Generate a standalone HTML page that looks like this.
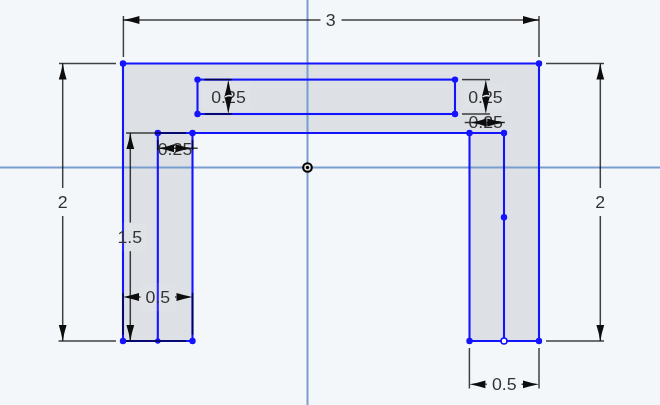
<!DOCTYPE html>
<html><head><meta charset="utf-8"><style>
html,body{margin:0;padding:0;width:660px;height:405px;overflow:hidden;background:#f4f7fa;}
.wrap{will-change:transform;width:660px;height:405px;}
svg{display:block;}
text{font-family:"Liberation Sans", sans-serif;}
</style></head><body>
<div class="wrap"><svg width="660" height="405" viewBox="0 0 660 405">
<rect x="0" y="0" width="660" height="405" fill="#f4f7fa"/>
<polygon points="123,63.5 539,63.5 539,341 469.5,341 469.5,133 192.5,133 192.5,341 123,341" fill="#dde1e5"/>
<line x1="307.5" y1="0" x2="307.5" y2="405" stroke="#789ecf" stroke-width="2"/>
<line x1="0" y1="167.5" x2="660" y2="167.5" stroke="#789ecf" stroke-width="2"/>
<line x1="123" y1="63.5" x2="539" y2="63.5" stroke="#1414ff" stroke-width="2.1"/>
<line x1="123" y1="63.5" x2="123" y2="341" stroke="#1414ff" stroke-width="2.1"/>
<line x1="539" y1="63.5" x2="539" y2="341" stroke="#1414ff" stroke-width="2.1"/>
<line x1="123" y1="341" x2="192.5" y2="341" stroke="#1414ff" stroke-width="2.1"/>
<line x1="469.5" y1="341" x2="539" y2="341" stroke="#1414ff" stroke-width="2.1"/>
<line x1="157.8" y1="133" x2="504" y2="133" stroke="#1414ff" stroke-width="2.1"/>
<line x1="157.8" y1="133" x2="157.8" y2="341" stroke="#1414ff" stroke-width="2.1"/>
<line x1="192.5" y1="133" x2="192.5" y2="341" stroke="#1414ff" stroke-width="2.1"/>
<line x1="469.5" y1="133" x2="469.5" y2="341" stroke="#1414ff" stroke-width="2.1"/>
<line x1="504" y1="133" x2="504" y2="341" stroke="#1414ff" stroke-width="2.1"/>
<rect x="197.5" y="79.6" width="257.5" height="34.4" fill="none" stroke="#1414ff" stroke-width="2.1"/>
<rect x="320.5" y="6" width="21.0" height="28" fill="#fff" fill-opacity="0.08"/>
<rect x="52.5" y="188" width="20.5" height="28" fill="#fff" fill-opacity="0.08"/>
<rect x="590" y="188" width="20.5" height="28" fill="#fff" fill-opacity="0.08"/>
<rect x="112.4" y="222.6" width="34.79999999999998" height="28.599999999999994" fill="#fff" fill-opacity="0.07"/>
<rect x="141" y="283" width="34" height="28" fill="#fff" fill-opacity="0.08"/>
<rect x="486.5" y="370" width="36.0" height="28" fill="#fff" fill-opacity="0.08"/>
<rect x="200.7" y="82.5" width="50.10000000000002" height="28.5" fill="#fff" fill-opacity="0.08"/>
<rect x="462.8" y="83" width="44.89999999999998" height="27.599999999999994" fill="#fff" fill-opacity="0.08"/>
<circle cx="123" cy="63.5" r="3.2" fill="#1414ff"/>
<circle cx="539" cy="63.5" r="3.2" fill="#1414ff"/>
<circle cx="123" cy="341" r="3.2" fill="#1414ff"/>
<circle cx="157.8" cy="341" r="2.7" fill="#1414ff"/>
<circle cx="192.5" cy="341" r="3.2" fill="#1414ff"/>
<circle cx="469.5" cy="341" r="3.2" fill="#1414ff"/>
<circle cx="539" cy="341" r="3.2" fill="#1414ff"/>
<circle cx="157.8" cy="133" r="3.2" fill="#1414ff"/>
<circle cx="192.5" cy="133" r="3.2" fill="#1414ff"/>
<circle cx="469.5" cy="133" r="3.2" fill="#1414ff"/>
<circle cx="504" cy="133" r="3.2" fill="#1414ff"/>
<circle cx="197.5" cy="79.6" r="3.2" fill="#1414ff"/>
<circle cx="455" cy="79.6" r="3.2" fill="#1414ff"/>
<circle cx="197.5" cy="114.0" r="3.2" fill="#1414ff"/>
<circle cx="455" cy="114.0" r="3.2" fill="#1414ff"/>
<circle cx="504" cy="217.3" r="3.2" fill="#1414ff"/>
<circle cx="504" cy="341" r="3" fill="#fff" stroke="#1414ff" stroke-width="1.6"/>
<line x1="123.4" y1="16" x2="123.4" y2="57" stroke="#000" stroke-opacity="0.74" stroke-width="1.5"/>
<line x1="539" y1="16" x2="539" y2="57" stroke="#000" stroke-opacity="0.74" stroke-width="1.5"/>
<line x1="123" y1="20" x2="320.5" y2="20" stroke="#000" stroke-opacity="0.74" stroke-width="1.5"/>
<line x1="341.5" y1="20" x2="539" y2="20" stroke="#000" stroke-opacity="0.74" stroke-width="1.5"/>
<line x1="59" y1="63.5" x2="116" y2="63.5" stroke="#000" stroke-opacity="0.74" stroke-width="1.5"/>
<line x1="58.5" y1="341" x2="116" y2="341" stroke="#000" stroke-opacity="0.74" stroke-width="1.5"/>
<line x1="62.7" y1="63.5" x2="62.7" y2="188" stroke="#000" stroke-opacity="0.74" stroke-width="1.5"/>
<line x1="62.7" y1="216" x2="62.7" y2="341" stroke="#000" stroke-opacity="0.74" stroke-width="1.5"/>
<line x1="546" y1="63.5" x2="604" y2="63.5" stroke="#000" stroke-opacity="0.74" stroke-width="1.5"/>
<line x1="546" y1="341" x2="604" y2="341" stroke="#000" stroke-opacity="0.74" stroke-width="1.5"/>
<line x1="600.3" y1="63.5" x2="600.3" y2="188" stroke="#000" stroke-opacity="0.74" stroke-width="1.5"/>
<line x1="600.3" y1="216" x2="600.3" y2="341" stroke="#000" stroke-opacity="0.74" stroke-width="1.5"/>
<line x1="126" y1="133" x2="186" y2="133" stroke="#000" stroke-opacity="0.74" stroke-width="1.5"/>
<line x1="126" y1="341" x2="186" y2="341" stroke="#000" stroke-opacity="0.74" stroke-width="1.5"/>
<line x1="130.3" y1="133" x2="130.3" y2="222.6" stroke="#000" stroke-opacity="0.74" stroke-width="1.5"/>
<line x1="130.3" y1="251.2" x2="130.3" y2="341" stroke="#000" stroke-opacity="0.74" stroke-width="1.5"/>
<line x1="123" y1="293" x2="123" y2="334.6" stroke="#000" stroke-opacity="0.74" stroke-width="1.5"/>
<line x1="192.5" y1="293" x2="192.5" y2="334.6" stroke="#000" stroke-opacity="0.74" stroke-width="1.5"/>
<line x1="139" y1="297" x2="140.5" y2="297.0" stroke="#000" stroke-opacity="0.74" stroke-width="1.5"/>
<line x1="176.5" y1="297" x2="175.0" y2="297.0" stroke="#000" stroke-opacity="0.74" stroke-width="1.5"/>
<line x1="469.4" y1="348" x2="469.4" y2="388.5" stroke="#000" stroke-opacity="0.74" stroke-width="1.5"/>
<line x1="539" y1="348" x2="539" y2="388.5" stroke="#000" stroke-opacity="0.74" stroke-width="1.5"/>
<line x1="485.4" y1="384.3" x2="486.9" y2="384.3" stroke="#000" stroke-opacity="0.74" stroke-width="1.5"/>
<line x1="523" y1="384.3" x2="521.5" y2="384.3" stroke="#000" stroke-opacity="0.74" stroke-width="1.5"/>
<line x1="204.8" y1="79.6" x2="231.7" y2="79.6" stroke="#000" stroke-opacity="0.74" stroke-width="1.5"/>
<line x1="204.8" y1="114.0" x2="231.7" y2="114.0" stroke="#000" stroke-opacity="0.74" stroke-width="1.5"/>
<line x1="462" y1="79.6" x2="490" y2="79.6" stroke="#000" stroke-opacity="0.74" stroke-width="1.5"/>
<line x1="462" y1="114.0" x2="490" y2="114.0" stroke="#000" stroke-opacity="0.74" stroke-width="1.5"/>
<line x1="464.7" y1="122.5" x2="504.9" y2="122.5" stroke="#000" stroke-opacity="0.74" stroke-width="1.5"/>
<line x1="157.8" y1="140" x2="157.8" y2="150" stroke="#000" stroke-opacity="0.74" stroke-width="1.5"/>
<line x1="192.5" y1="140" x2="192.5" y2="150" stroke="#000" stroke-opacity="0.74" stroke-width="1.5"/>
<line x1="157.8" y1="148.2" x2="197.7" y2="148.2" stroke="#000" stroke-opacity="0.74" stroke-width="1.5"/>
<g font-size="17.4" fill="#333">
<text transform="translate(330.7,26.1) scale(1.02,1)" x="0" y="0" text-anchor="middle">3</text>
<text transform="translate(62.7,207.9) scale(1.02,1)" x="0" y="0" text-anchor="middle">2</text>
<text transform="translate(600.3,207.9) scale(1.02,1)" x="0" y="0" text-anchor="middle">2</text>
<text transform="translate(129.7,242.9) scale(1.02,1)" x="0" y="0" text-anchor="middle">1.5</text>
<text transform="translate(157.8,302.6) scale(1.02,1)" x="0" y="0" text-anchor="middle">0.5</text>
<text transform="translate(504.3,390.2) scale(1.02,1)" x="0" y="0" text-anchor="middle">0.5</text>
<text transform="translate(228.5,102.8) scale(1.02,1)" x="0" y="0" text-anchor="middle">0.25</text>
<text transform="translate(485.4,102.8) scale(1.02,1)" x="0" y="0" text-anchor="middle">0.25</text>
<text transform="translate(485.7,128.4) scale(1.02,1)" x="0" y="0" text-anchor="middle">0.25</text>
<text transform="translate(175,154.5) scale(1.02,1)" x="0" y="0" text-anchor="middle">0.25</text>
</g>
<path d="M123.4,20 Q131.40,18.64 139.40,16.10 L139.40,23.90 Q131.40,21.36 123.4,20Z" fill="#0d0d0d"/>
<path d="M539,20 Q531.00,21.36 523.00,23.90 L523.00,16.10 Q531.00,18.64 539,20Z" fill="#0d0d0d"/>
<path d="M62.7,63.5 Q64.07,71.50 66.60,79.50 L58.80,79.50 Q61.34,71.50 62.7,63.5Z" fill="#0d0d0d"/>
<path d="M62.7,341 Q61.34,333.00 58.80,325.00 L66.60,325.00 Q64.07,333.00 62.7,341Z" fill="#0d0d0d"/>
<path d="M600.3,63.5 Q601.66,71.50 604.20,79.50 L596.40,79.50 Q598.93,71.50 600.3,63.5Z" fill="#0d0d0d"/>
<path d="M600.3,341 Q598.93,333.00 596.40,325.00 L604.20,325.00 Q601.66,333.00 600.3,341Z" fill="#0d0d0d"/>
<path d="M130.3,133 Q131.66,141.00 134.20,149.00 L126.40,149.00 Q128.94,141.00 130.3,133Z" fill="#0d0d0d"/>
<path d="M130.3,341 Q128.94,333.00 126.40,325.00 L134.20,325.00 Q131.66,333.00 130.3,341Z" fill="#0d0d0d"/>
<path d="M123,297 Q131.00,295.63 139.00,293.10 L139.00,300.90 Q131.00,298.37 123,297Z" fill="#0d0d0d"/>
<path d="M192.5,297 Q184.50,298.37 176.50,300.90 L176.50,293.10 Q184.50,295.63 192.5,297Z" fill="#0d0d0d"/>
<path d="M469.4,384.3 Q477.40,382.94 485.40,380.40 L485.40,388.20 Q477.40,385.67 469.4,384.3Z" fill="#0d0d0d"/>
<path d="M539,384.3 Q531.00,385.67 523.00,388.20 L523.00,380.40 Q531.00,382.94 539,384.3Z" fill="#0d0d0d"/>
<path d="M228.3,79.6 Q229.66,88.20 232.20,96.80 L224.40,96.80 Q226.94,88.20 228.3,79.6Z" fill="#0d0d0d"/>
<path d="M228.3,114.0 Q226.94,105.40 224.40,96.80 L232.20,96.80 Q229.66,105.40 228.3,114.0Z" fill="#0d0d0d"/>
<path d="M485.8,79.6 Q487.17,88.20 489.70,96.80 L481.90,96.80 Q484.44,88.20 485.8,79.6Z" fill="#0d0d0d"/>
<path d="M485.8,114.0 Q484.44,105.40 481.90,96.80 L489.70,96.80 Q487.17,105.40 485.8,114.0Z" fill="#0d0d0d"/>
<path d="M471,122.5 Q478.75,121.10 486.50,118.50 L486.50,126.50 Q478.75,123.90 471,122.5Z" fill="#0d0d0d"/>
<path d="M504.3,122.5 Q495.80,123.90 487.30,126.50 L487.30,118.50 Q495.80,121.10 504.3,122.5Z" fill="#0d0d0d"/>
<path d="M159,148.2 Q166.50,146.80 174.00,144.20 L174.00,152.20 Q166.50,149.60 159,148.2Z" fill="#0d0d0d"/>
<path d="M191.5,148.2 Q183.50,149.60 175.50,152.20 L175.50,144.20 Q183.50,146.80 191.5,148.2Z" fill="#0d0d0d"/>
<path d="M225,97 Q228.6,94.6 232,96.2" stroke="#e6e8ea" stroke-width="1.4" fill="none"/>
<path d="M482.5,96.9 Q486.1,94.5 489.5,96.1" stroke="#e6e8ea" stroke-width="1.4" fill="none"/>
<circle cx="307.5" cy="167.5" r="4.3" fill="#e2e2e2" stroke="#000" stroke-width="2.1"/>
<circle cx="307.5" cy="167.5" r="1.65" fill="#000"/>
</svg></div>
</body></html>
